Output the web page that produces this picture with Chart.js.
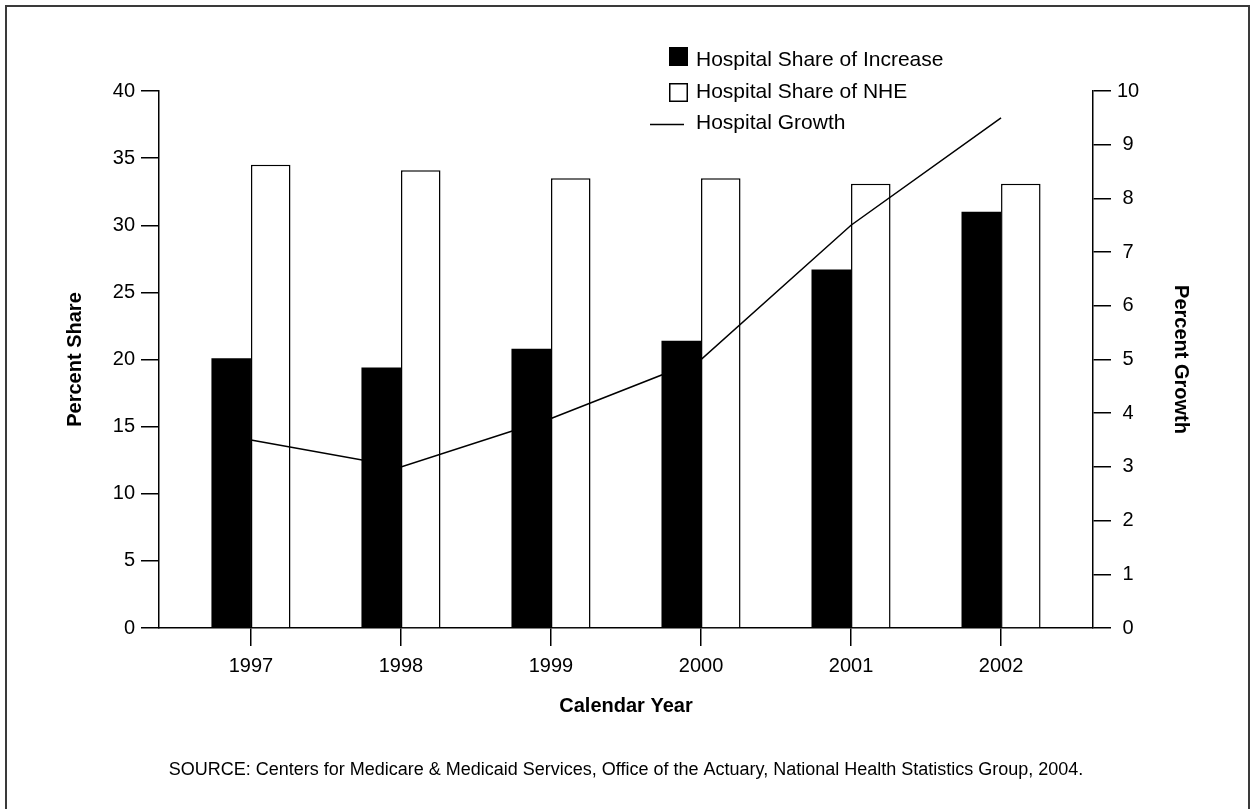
<!DOCTYPE html>
<html>
<head>
<meta charset="utf-8">
<script src="https://cdn.jsdelivr.net/npm/chart.js@4.4.1/dist/chart.umd.min.js"></script>
<style>
  html, body { margin: 0; padding: 0; background: #fff; }
  #wrap { width: 1251px; height: 809px; position: relative; }
</style>
</head>
<body>
<div id="wrap"><canvas id="hospChart"></canvas></div>
<script>
// data
var years = [1997, 1998, 1999, 2000, 2001, 2002];
var shareOfIncrease = [20.1, 19.4, 20.8, 21.4, 26.7, 31.0];
var shareOfNHE = [34.5, 34.1, 33.5, 33.5, 33.1, 33.1];
var hospitalGrowth = [3.5, 3.0, 3.9, 5.0, 7.5, 9.5];

var leftTicks = [0, 5, 10, 15, 20, 25, 30, 35, 40];
var rightTicks = [0, 1, 2, 3, 4, 5, 6, 7, 8, 9, 10];

var seriesNames = ['Hospital Share of Increase', 'Hospital Share of NHE', 'Hospital Growth'];
var sourceNote = 'SOURCE: Centers for Medicare & Medicaid Services, Office of the Actuary, National Health Statistics Group, 2004.';

var FONT = "'Liberation Sans', Arial, Helvetica, sans-serif";
Chart.defaults.font.family = FONT;
Chart.defaults.color = '#000';

function pairs(vals) {
    return years.map(function (y, i) { return { x: y, y: vals[i] }; });
}

// frame, source line and legend drawn by hand
var extras = {
    id: 'extras',
    afterDraw: function (chart) {
        var ctx = chart.ctx;
        ctx.save();
        ctx.strokeStyle = '#3a3a3a';
        ctx.lineWidth = 2;
        ctx.beginPath();
        ctx.moveTo(6, 820);
        ctx.lineTo(6, 6);
        ctx.lineTo(1249, 6);
        ctx.lineTo(1249, 820);
        ctx.stroke();

        ctx.fillStyle = '#000';
        ctx.font = '18px ' + FONT;
        ctx.textAlign = 'center';
        ctx.textBaseline = 'middle';
        ctx.fillText(sourceNote, 626, 770);

        // legend
        ctx.font = '21px ' + FONT;
        ctx.textAlign = 'left';
        ctx.textBaseline = 'alphabetic';
        ctx.fillRect(669, 47, 19, 19);
        ctx.fillText(seriesNames[0], 696, 66);
        ctx.lineWidth = 1.5;
        ctx.strokeStyle = '#000';
        ctx.strokeRect(669.75, 83.75, 17.5, 17.5);
        ctx.fillText(seriesNames[1], 696, 98);
        ctx.beginPath();
        ctx.moveTo(650, 124.5);
        ctx.lineTo(684, 124.5);
        ctx.stroke();
        ctx.fillText(seriesNames[2], 696, 129);
        ctx.restore();
    }
};

var axisLine = { display: true, color: '#000', width: 1.5 };

var ctx = document.getElementById('hospChart').getContext('2d');
var hospChart = new Chart(ctx, {
    type: 'bar',
    data: {
        datasets: [
            {
                label: seriesNames[0],
                data: pairs(shareOfIncrease),
                backgroundColor: '#000',
                borderWidth: 0,
                yAxisID: 'y',
                order: 2
            },
            {
                label: seriesNames[1],
                data: pairs(shareOfNHE),
                backgroundColor: '#fff',
                borderColor: '#000',
                borderWidth: 1.5,
                yAxisID: 'y',
                order: 2
            },
            {
                type: 'line',
                label: seriesNames[2],
                data: pairs(hospitalGrowth),
                borderColor: '#000',
                borderWidth: 1.5,
                pointRadius: 0,
                tension: 0,
                fill: false,
                yAxisID: 'y1',
                order: 0
            }
        ]
    },
    options: {
        responsive: true,
        maintainAspectRatio: false,
        animation: false,
        categoryPercentage: 0.527,
        barPercentage: 1.0,
        layout: { padding: { top: 91, left: 50, right: 50, bottom: 80 } },
        plugins: {
            legend: { display: false },
            tooltip: { enabled: false }
        },
        scales: {
            x: {
                type: 'linear',
                offset: false,
                min: years[0] - 0.613,
                max: years[years.length - 1] + 0.613,
                afterBuildTicks: function (scale) {
                    scale.ticks = years.map(function (y) { return { value: y }; });
                },
                afterFit: function (scale) { scale.height = 101; },
                grid: { offset: false, drawOnChartArea: false, drawTicks: true, tickLength: 18, color: '#000', lineWidth: 1.5 },
                border: axisLine,
                ticks: {
                    autoSkip: false,
                    padding: 8,
                    font: { size: 20 },
                    callback: function (v) { return String(v); }
                },
                title: {
                    display: true,
                    text: 'Calendar Year',
                    font: { size: 20, weight: 'bold' },
                    padding: { top: 0, bottom: 11 }
                }
            },
            y: {
                position: 'left',
                min: 0,
                max: 40,
                afterBuildTicks: function (scale) {
                    scale.ticks = leftTicks.map(function (v) { return { value: v }; });
                },
                afterFit: function (scale) { scale.width = 109; },
                grid: { drawOnChartArea: false, drawTicks: true, tickLength: 18, color: '#000', lineWidth: 1.5 },
                border: axisLine,
                ticks: { padding: 6, font: { size: 20 } },
                title: {
                    display: true,
                    text: 'Percent Share',
                    font: { size: 20, weight: 'bold' },
                    padding: { top: 13, bottom: 0 }
                }
            },
            y1: {
                position: 'right',
                min: 0,
                max: 10,
                afterBuildTicks: function (scale) {
                    scale.ticks = rightTicks.map(function (v) { return { value: v }; });
                },
                afterFit: function (scale) { scale.width = 108; },
                grid: { drawOnChartArea: false, drawTicks: true, tickLength: 18, color: '#000', lineWidth: 1.5 },
                border: axisLine,
                ticks: { padding: 6, crossAlign: 'center', font: { size: 20 } },
                title: {
                    display: true,
                    text: 'Percent Growth',
                    font: { size: 20, weight: 'bold' },
                    padding: { top: 8, bottom: 0 }
                }
            }
        }
    },
    plugins: [extras]
});
</script>
</body>
</html>
